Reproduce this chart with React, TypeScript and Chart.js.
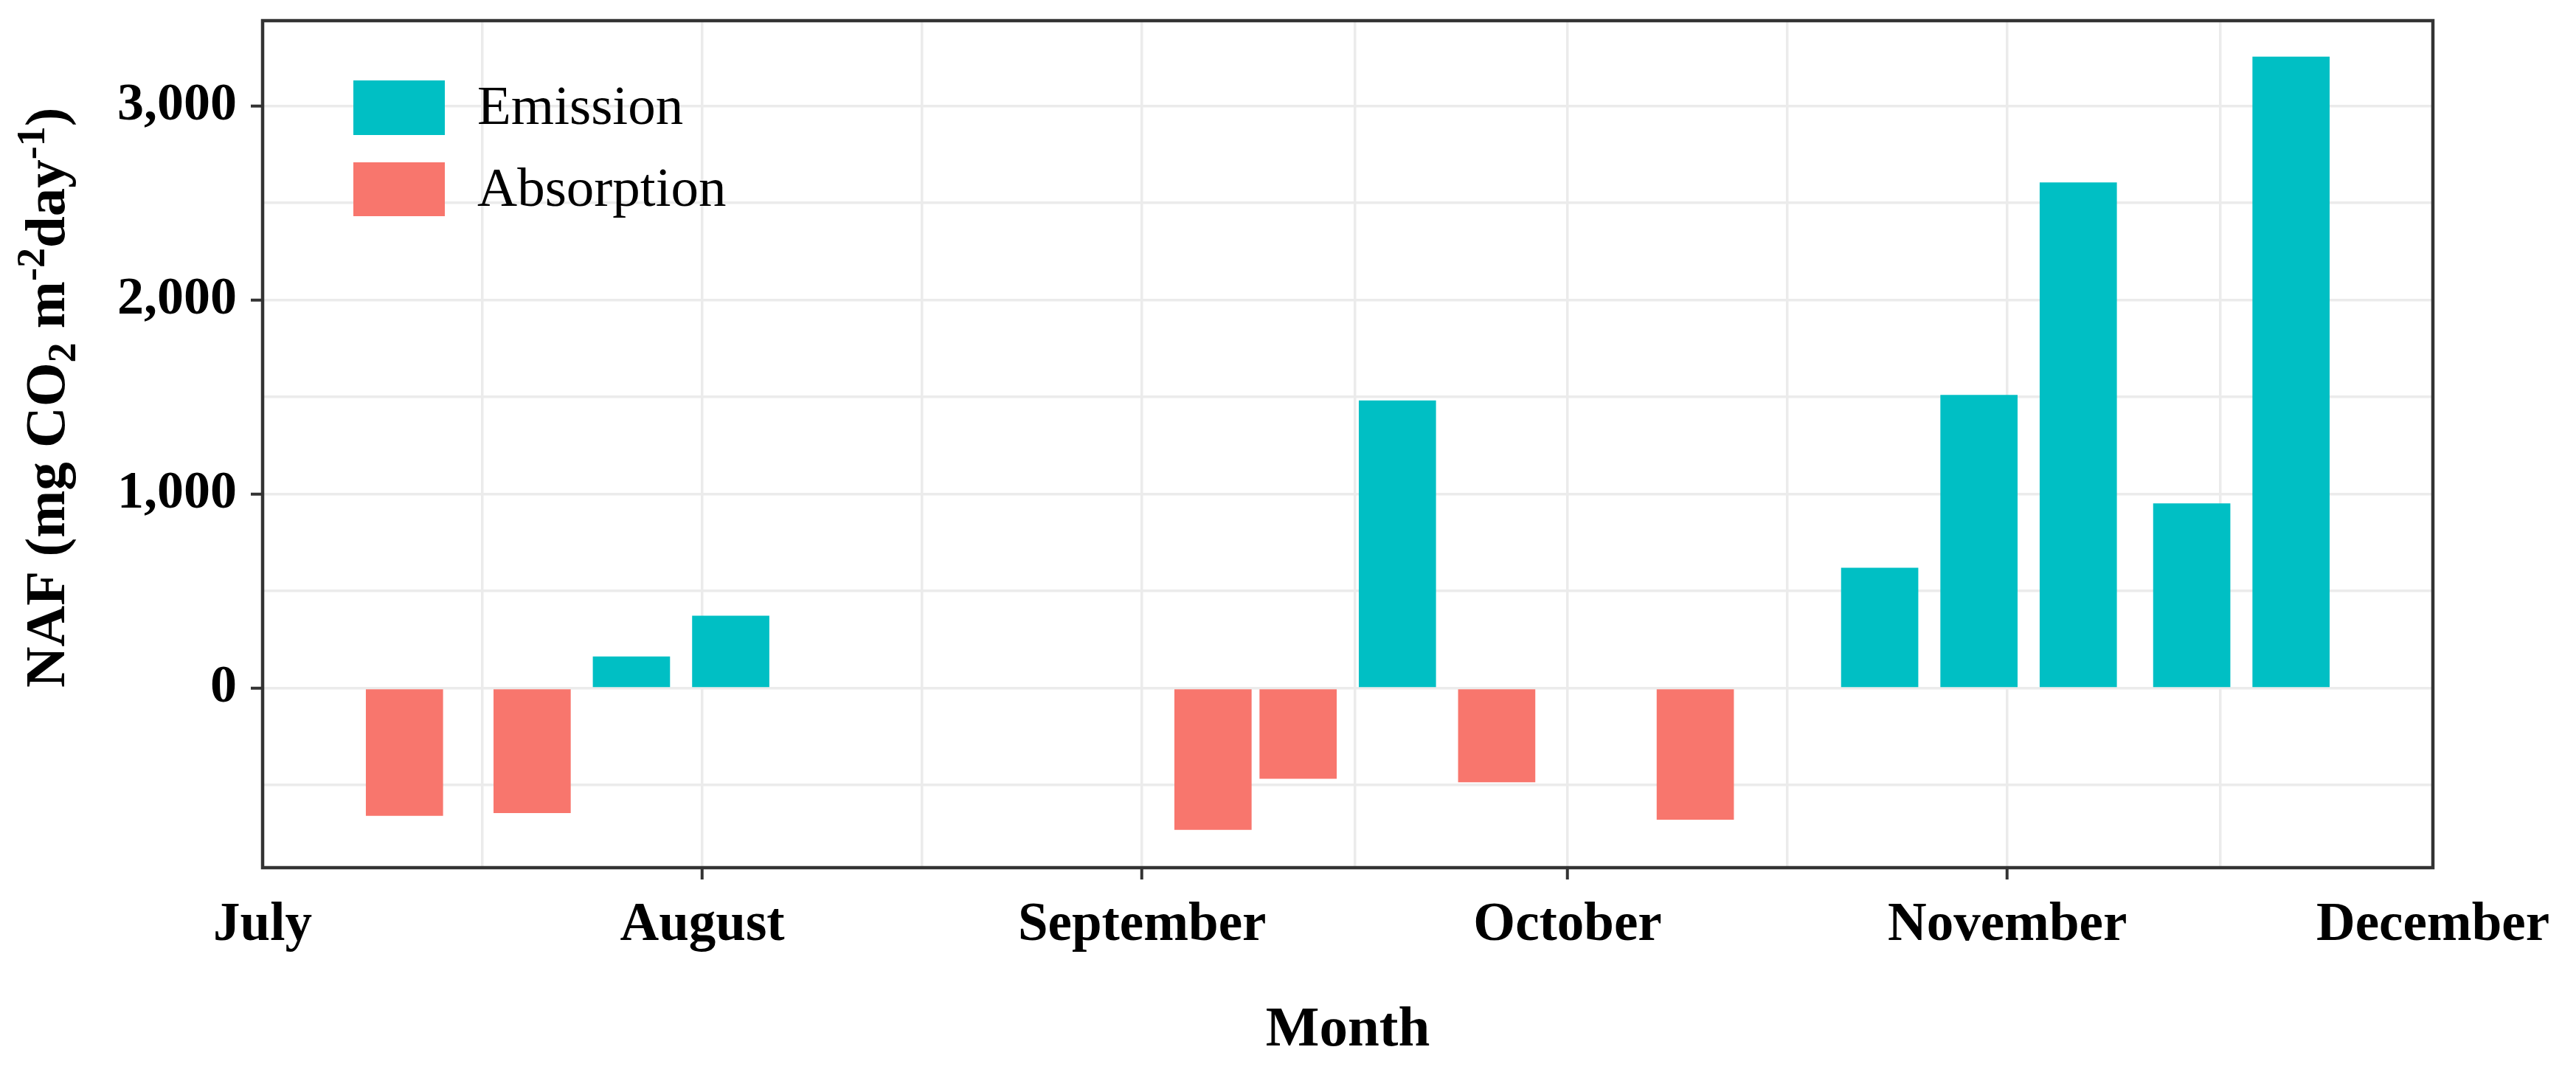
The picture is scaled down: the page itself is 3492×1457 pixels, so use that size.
import { useEffect, useRef } from "react";
import { Chart, registerables } from "chart.js";

Chart.register(...registerables);

// ---------------- data ----------------
const YEAR = 2019;
const monthLabels = ["July", "August", "September", "October", "November", "December"];
const monthStarts = ["07-01", "08-01", "09-01", "10-01", "11-01", "12-01"];

const seriesLabels = ["Emission", "Absorption"];
const emissionDates = ["07-27", "08-03", "09-19", "10-23", "10-30", "11-06", "11-14", "11-21"];
const emissionValues = [162, 372, 1482, 619, 1510, 2605, 951, 3253];
const absorptionDates = ["07-11", "07-20", "09-06", "09-12", "09-26", "10-10"];
const absorptionValues = [-657, -642, -729, -466, -484, -677];

const yMajorTicks = [0, 1000, 2000, 3000];
const yMinorTicks = [-500, 500, 1500, 2500];
const yLimits = [-925, 3440];

const xTitle = "Month";
// y title pieces: [text, kind] kind: n = normal, sub = subscript, sup = superscript
const yTitlePieces: [string, string][] = [
  ["NAF (mg CO", "n"],
  ["2", "sub"],
  [" m", "n"],
  ["-2", "sup"],
  ["day", "n"],
  ["-1", "sup"],
  [")", "n"],
];

// ---------------- styling ----------------
const W = 3492;
const H = 1457;
const FONT = "'Liberation Serif', 'Times New Roman', serif";
const COLORS = ["#00BFC4", "#F8766D"];
const GRID = "#EBEBEB";
const DARK = "#333333";

const dayOf = (md: string) => {
  const [m, d] = md.split("-").map(Number);
  return (Date.UTC(YEAR, m - 1, d) - Date.UTC(YEAR, 6, 1)) / 86400000;
};

const xMajor = monthStarts.map(dayOf);
const xMinor = xMajor.slice(0, -1).map((v, i) => (v + xMajor[i + 1]) / 2);
const xAll = [...xMajor, ...xMinor].sort((a, b) => a - b);
const yAll = [...yMajorTicks, ...yMinorTicks].sort((a, b) => a - b);

const panelPlugin = {
  id: "panelDecor",
  afterDatasetsDraw(chart: any) {
    const { ctx, chartArea: a } = chart;
    ctx.save();
    // panel border
    ctx.strokeStyle = DARK;
    ctx.lineWidth = 4.5;
    ctx.strokeRect(a.left, a.top, a.right - a.left, a.bottom - a.top);

    // legend (inside panel, top-left)
    const boxes = [
      { y: 109, h: 74, base: 168 },
      { y: 220, h: 73, base: 279 },
    ];
    chart.data.datasets.forEach((ds: any, i: number) => {
      const b = boxes[i];
      ctx.fillStyle = ds.backgroundColor;
      ctx.fillRect(479, b.y, 124, b.h);
      ctx.fillStyle = "#000";
      ctx.font = `75px ${FONT}`;
      ctx.textAlign = "left";
      ctx.textBaseline = "alphabetic";
      ctx.fillText(ds.label, 647, b.base);
    });
    ctx.restore();
  },
  afterDraw(chart: any) {
    const { ctx } = chart;
    ctx.save();
    ctx.translate(87, 932);
    ctx.rotate(-Math.PI / 2);
    ctx.fillStyle = "#000";
    ctx.textAlign = "left";
    ctx.textBaseline = "alphabetic";
    let x = 0;
    for (const [t, kind] of yTitlePieces) {
      const size = kind === "n" ? 77 : 54;
      ctx.font = `bold ${size}px ${FONT}`;
      const dy = kind === "sub" ? 15 : kind === "sup" ? -27 : 0;
      ctx.fillText(t, x, dy);
      x += ctx.measureText(t).width;
    }
    ctx.restore();
  },
};

export default function App() {
  const ref = useRef<HTMLCanvasElement | null>(null);

  useEffect(() => {
    if (!ref.current) return;
    const chart = new Chart(ref.current, {
      type: "bar",
      data: {
        datasets: [
          {
            label: seriesLabels[0],
            data: emissionDates.map((d, i) => ({ x: dayOf(d), y: emissionValues[i] })),
            backgroundColor: COLORS[0],
            barThickness: 104,
            grouped: false,
          } as any,
          {
            label: seriesLabels[1],
            data: absorptionDates.map((d, i) => ({ x: dayOf(d), y: absorptionValues[i] })),
            backgroundColor: COLORS[1],
            barThickness: 104,
            grouped: false,
          } as any,
        ],
      },
      options: {
        responsive: false,
        animation: false,
        devicePixelRatio: 1,
        events: [],
        layout: { padding: { top: 28, right: 194, bottom: 0, left: 0 } },
        plugins: {
          legend: { display: false },
          tooltip: { enabled: false },
        },
        scales: {
          x: {
            type: "linear",
            min: xMajor[0],
            max: xMajor[xMajor.length - 1],
            offset: false,
            afterBuildTicks: (scale: any) => {
              scale.ticks = xAll.map((v) => ({ value: v }));
            },
            afterFit: (scale: any) => {
              scale.height = H - 1176;
              scale.paddingLeft = 0;
              scale.paddingRight = 0;
            },
            ticks: {
              autoSkip: false,
              maxRotation: 0,
              minRotation: 0,
              padding: 19,
              color: "#000",
              font: { family: FONT, size: 73, weight: "bold" },
              callback: (v: any) => {
                const i = xMajor.indexOf(Number(v));
                return i >= 0 ? monthLabels[i] : "";
              },
            },
            grid: {
              offset: false,
              color: GRID,
              lineWidth: 3.5,
              tickLength: 16,
              tickWidth: 4,
              tickColor: (c: any) => {
                const v = c.tick ? c.tick.value : NaN;
                const i = xMajor.indexOf(v);
                return i > 0 && i < xMajor.length - 1 ? DARK : "rgba(0,0,0,0)";
              },
            },
            border: { display: false },
            title: {
              display: true,
              text: xTitle,
              color: "#000",
              font: { family: FONT, size: 77, weight: "bold" },
              padding: { top: 0, bottom: 14 },
            },
          } as any,
          y: {
            type: "linear",
            min: yLimits[0],
            max: yLimits[1],
            afterBuildTicks: (scale: any) => {
              scale.ticks = yAll.map((v) => ({ value: v }));
            },
            afterFit: (scale: any) => {
              scale.width = 356;
              scale.paddingTop = 0;
              scale.paddingBottom = 0;
            },
            ticks: {
              padding: 19,
              color: "#000",
              font: { family: FONT, size: 72, weight: "bold" },
              callback: (v: any) =>
                yMajorTicks.includes(Number(v)) ? Number(v).toLocaleString("en-US") : "",
            },
            grid: {
              color: GRID,
              lineWidth: 3.5,
              tickLength: 16,
              tickWidth: 4,
              tickColor: (c: any) =>
                c.tick && yMajorTicks.includes(c.tick.value) ? DARK : "rgba(0,0,0,0)",
            },
            border: { display: false },
            title: { display: false },
          } as any,
        },
      },
      plugins: [panelPlugin],
    });
    return () => chart.destroy();
  }, []);

  return (
    <div style={{ position: "fixed", left: 0, top: 0, width: W, height: H, background: "#fff" }}>
      <canvas ref={ref} width={W} height={H} style={{ width: W, height: H, display: "block" }} />
    </div>
  );
}
